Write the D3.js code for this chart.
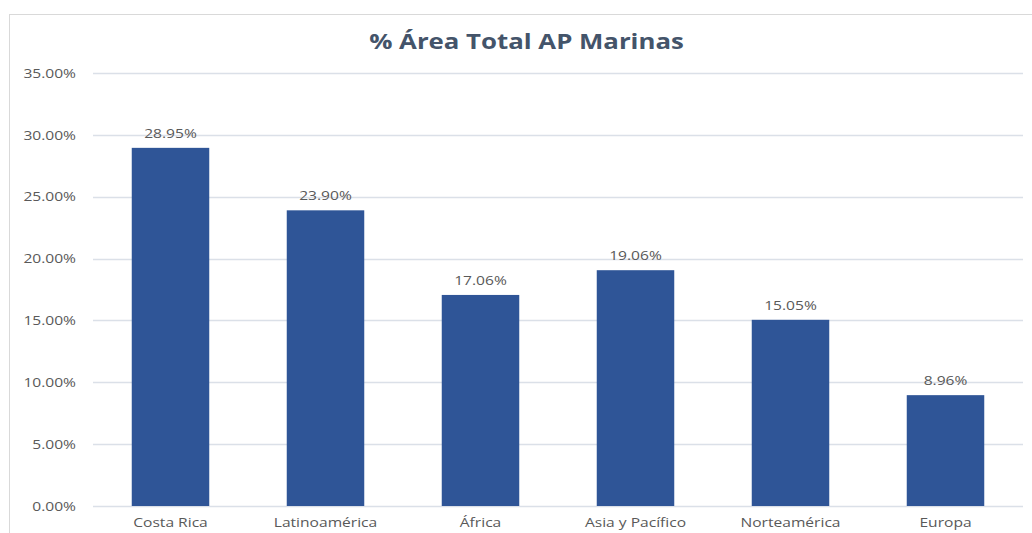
<!DOCTYPE html>
<html>
<head>
<meta charset="utf-8">
<script src="https://cdn.jsdelivr.net/npm/d3@7"></script>
<style>
  html, body { margin: 0; padding: 0; background: #fff; }
  svg { display: block; }
</style>
</head>
<body>
<svg id="chart" width="1032" height="533"></svg>
<script>
// Share of total marine protected area by region
const categories = ["Costa Rica", "Latinoamérica", "África", "Asia y Pacífico", "Norteamérica", "Europa"];
const values = [28.95, 23.90, 17.06, 19.06, 15.05, 8.96];
const yTicks = [0, 5, 10, 15, 20, 25, 30, 35];
const title = "% Área Total AP Marinas";

const svg = d3.select("#chart");
const W = 1032, H = 533;
const font = "'Open Sans', 'Noto Sans', sans-serif";
const labelSize = 13;
const stretch = "scale(1.2,1)";   // wide letterforms

// chart frame (runs past the right and bottom edges)
svg.append("rect")
  .attr("x", 9.5).attr("y", 14.5)
  .attr("width", W + 20).attr("height", H + 20)
  .attr("fill", "#fff")
  .attr("stroke", "#d9d9d9")
  .attr("stroke-width", 1);

const plot = { left: 93, right: 1023, top: 73, bottom: 506 };

const x = d3.scaleBand()
  .domain(categories)
  .range([plot.left, plot.right])
  .paddingInner(0.5)
  .paddingOuter(0.25);

const y = d3.scaleLinear()
  .domain([0, 35])
  .range([plot.bottom, plot.top]);

// horizontal gridlines
svg.append("g")
  .selectAll("line")
  .data(yTicks)
  .join("line")
  .attr("x1", plot.left).attr("x2", plot.right)
  .attr("y1", d => Math.round(y(d)) + 0.5)
  .attr("y2", d => Math.round(y(d)) + 0.5)
  .attr("stroke", "#dbe0e8")
  .attr("stroke-width", 1.3);

// y axis labels
const yAxis = d3.axisLeft(y)
  .tickValues(yTicks)
  .tickFormat(d => d.toFixed(2) + "%")
  .tickSize(0)
  .tickPadding(0);
const gy = svg.append("g")
  .attr("transform", "translate(76,0)")
  .call(yAxis);
gy.select(".domain").remove();
gy.selectAll("text")
  .attr("transform", stretch)
  .attr("font-family", font)
  .attr("font-size", labelSize)
  .attr("fill", "#595959");

// bars
svg.append("g")
  .selectAll("rect")
  .data(values)
  .join("rect")
  .attr("x", (d, i) => x(categories[i]))
  .attr("width", x.bandwidth())
  .attr("y", d => y(d))
  .attr("height", d => y(0) - y(d))
  .attr("fill", "#2f5597");

// value labels
svg.append("g")
  .selectAll("g")
  .data(values)
  .join("g")
  .attr("transform", (d, i) => `translate(${x(categories[i]) + x.bandwidth() / 2},${y(d) - 10})`)
  .append("text")
  .attr("transform", stretch)
  .attr("text-anchor", "middle")
  .attr("font-family", font)
  .attr("font-size", labelSize)
  .attr("fill", "#595959")
  .text(d => d.toFixed(2) + "%");

// category axis
const xAxis = d3.axisBottom(x).tickSize(0).tickPadding(0);
const gx = svg.append("g")
  .attr("transform", `translate(0,${plot.bottom + 21})`)
  .call(xAxis);
gx.select(".domain").remove();
gx.selectAll("text")
  .attr("dy", 0)
  .attr("transform", stretch)
  .attr("font-family", font)
  .attr("font-size", labelSize)
  .attr("fill", "#595959");

// title
svg.append("g")
  .attr("transform", "translate(526.5,48.5)")
  .append("text")
  .attr("transform", "scale(1.2,1)")
  .attr("text-anchor", "middle")
  .attr("font-family", font)
  .attr("font-weight", "bold")
  .attr("font-size", 21.5)
  .attr("fill", "#44546a")
  .text(title);
</script>
</body>
</html>
